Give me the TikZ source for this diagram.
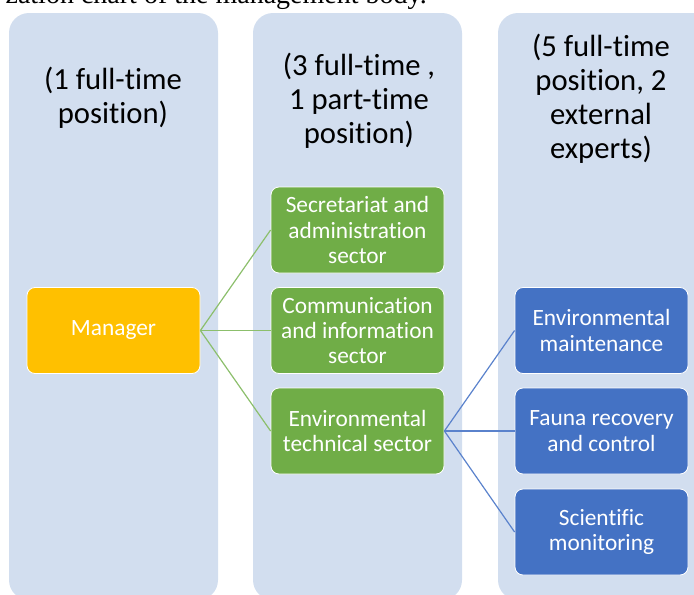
\documentclass[tikz,border=0pt]{standalone}
\usepackage{fontspec}
\setmainfont{Carlito}[Ligatures=NoCommon]
\newfontfamily\capfont{Liberation Serif}
\definecolor{colfill}{HTML}{D2DEEF}
\definecolor{mgrfill}{HTML}{FFC000}
\definecolor{grnfill}{HTML}{70AD47}
\definecolor{blufill}{HTML}{4472C4}
\definecolor{grnline}{HTML}{8CBF6C}
\definecolor{bluline}{HTML}{5A82CC}
\tikzset{
  column/.style={fill=colfill, rounded corners=15pt},
  header/.style={align=center, inner sep=0pt, text=black, font=\fontsize{23}{25.5}\selectfont},
  box/.style={draw=white, line width=0.6pt, rounded corners=6pt, inner sep=0pt,
    minimum width=129.75pt, minimum height=64.5pt, align=center, text=white,
    font=\fontsize{17.5}{19}\selectfont},
  mgrbox/.style={box, fill=mgrfill},
  grnbox/.style={box, fill=grnfill},
  blubox/.style={box, fill=blufill},
  glink/.style={draw=grnline, line width=0.9pt},
  blink/.style={draw=bluline, line width=0.9pt}
}
\begin{document}
\begin{tikzpicture}[x=0.75pt, y=-0.75pt]
\useasboundingbox (0,0) rectangle (694,594);
\clip (0,0) rectangle (694,594);
% caption fragment cut at top
\node[anchor=base east, inner sep=0pt, font=\capfont\fontsize{21}{24}\selectfont] (cap) at (427,3) {zation chart of the management body.};
% columns
\fill[column] (9,13) rectangle (218,600);
\fill[column] (253,13) rectangle (462,600);
\fill[column] (498,13) rectangle (720,600);
% headers
\node[header] (h1) at (113,98) {(1 full-time\\position)};
\node[header] (h2) at (359,101) {(3 full-time ,\\1 part-time\\position)};
\node[header] (h3) at (601,98.5) {(5 full-time\\position, 2\\external\\experts)};
% boxes
\node[mgrbox] (mgr) at (113.5,330.5) {Manager};
\node[grnbox] (g1) at (357.5,230) {Secretariat and\\administration\\sector};
\node[grnbox] (g2) at (357.5,330.5) {Communication\\and information\\sector};
\node[grnbox] (g3) at (357.5,431) {Environmental\\technical sector};
\node[blubox] (b1) at (601.5,330.5) {Environmental\\maintenance};
\node[blubox] (b2) at (601.5,431) {Fauna recovery\\and control};
\node[blubox] (b3) at (601.5,532) {Scientific\\monitoring};
% connectors
\draw[glink] (mgr.east) -- (g1.west);
\draw[glink] (mgr.east) -- (g2.west);
\draw[glink] (mgr.east) -- (g3.west);
\draw[blink] (g3.east) -- (b1.west);
\draw[blink] (g3.east) -- (b2.west);
\draw[blink] (g3.east) -- (b3.west);
\end{tikzpicture}
\end{document}
